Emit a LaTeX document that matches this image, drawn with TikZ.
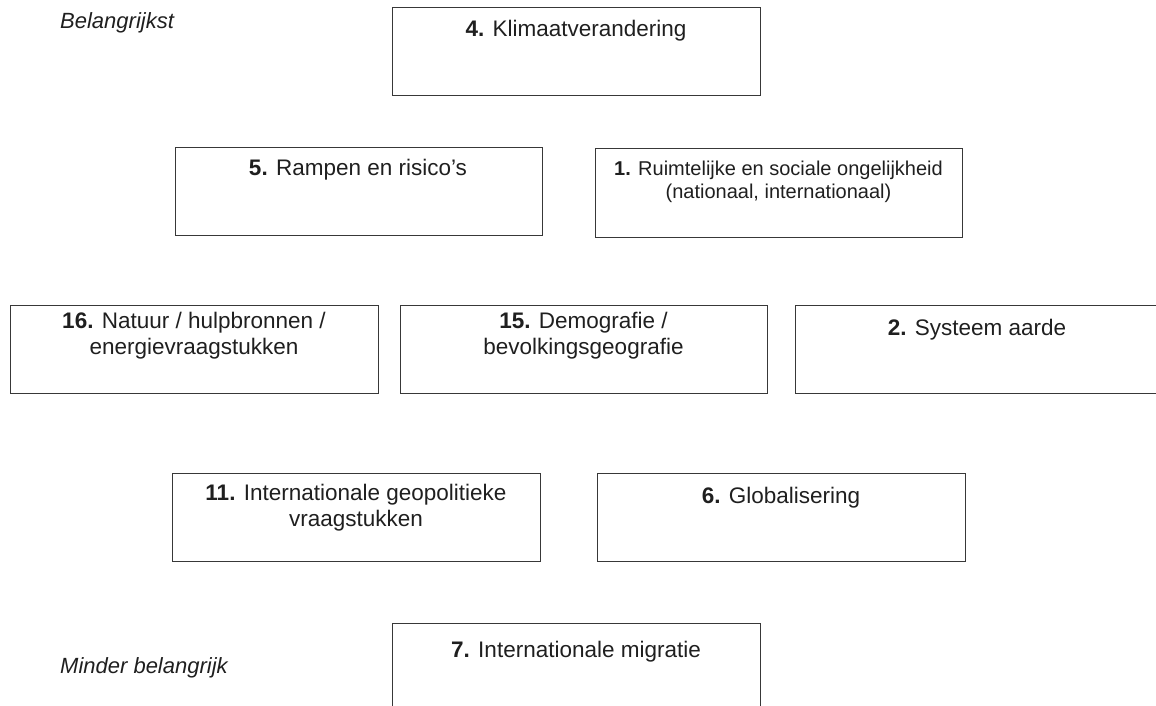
\documentclass[tikz,border=0pt]{standalone}
\usepackage{fontspec}
\setmainfont{Liberation Sans}
\begin{document}
\begin{tikzpicture}[x=1pt,y=-1pt,
  topic/.style={draw=black!78, line width=1.4pt, rectangle, anchor=north west,
    inner sep=0pt, minimum width=368pt, minimum height=88pt},
  lbl/.style={anchor=base, font=\fontsize{22.5}{26}\selectfont, text=black!88,
    align=center, inner sep=0pt},
  side/.style={anchor=base west, font=\itshape\fontsize{22}{26}\selectfont,
    text=black!88, inner sep=0pt}]
\useasboundingbox (0,0) rectangle (1156,705);

% row 1 (multi-line labels are placed by the baseline of their last line)
\node[topic] (b4) at (392,7) {};
\node[lbl] (t4) at (576,36) {\textbf{4.} Klimaatverandering};

% row 2
\node[topic, minimum width=367pt] (b5) at (175,147) {};
\node[lbl] (t5) at (358,175) {\textbf{5.} Rampen en risico’s};
\node[topic, minimum width=367pt, minimum height=89pt] (b1) at (595,148) {};
\node[lbl, font=\fontsize{20}{23}\selectfont] (t1) at (778.5,198)
  {\textbf{1.} Ruimtelijke en sociale ongelijkheid\\(nationaal, internationaal)};

% row 3
\node[topic] (b16) at (10,305) {};
\node[lbl] (t16) at (194,354) {\textbf{16.} Natuur / hulpbronnen /\\energievraagstukken};
\node[topic, minimum width=367pt] (b15) at (400,305) {};
\node[lbl] (t15) at (583.5,354) {\textbf{15.} Demografie /\\bevolkingsgeografie};
\node[topic, minimum width=365pt] (b2) at (795,305) {};
\node[lbl] (t2) at (977,335) {\textbf{2.} Systeem aarde};

% row 4
\node[topic] (b11) at (172,473) {};
\node[lbl] (t11) at (356,526) {\textbf{11.} Internationale geopolitieke\\vraagstukken};
\node[topic] (b6) at (597,473) {};
\node[lbl] (t6) at (781,503) {\textbf{6.} Globalisering};

% row 5
\node[topic] (b7) at (392,623) {};
\node[lbl] (t7) at (576,657) {\textbf{7.} Internationale migratie};

% scale labels
\node[side] (top) at (60,28) {Belangrijkst};
\node[side] (bottom) at (60,673) {Minder belangrijk};
\end{tikzpicture}
\end{document}
